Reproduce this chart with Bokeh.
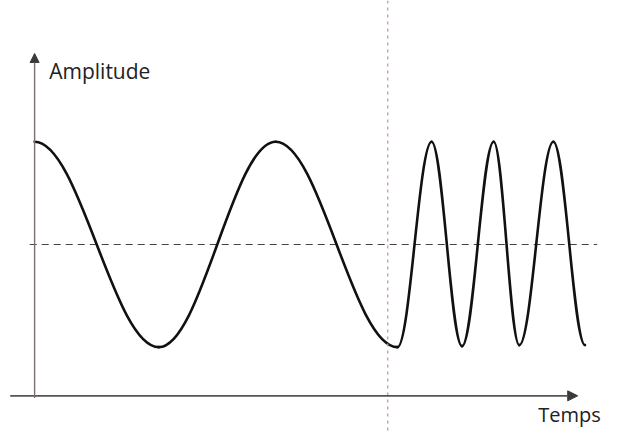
import numpy as np
from bokeh.plotting import figure
from bokeh.models import Range1d, Arrow, NormalHead, Label, Span
from bokeh.embed import file_html
from bokeh.resources import INLINE

# --- data -----------------------------------------------------------------
# time of each successive extremum of the signal (arbitrary time units)
extremum_time = [0.0, 1.02, 1.98, 2.98, 3.26, 3.51, 3.77, 3.98, 4.26, 4.52]
# amplitude at each extremum
extremum_amp = [1.0, -1.0, 1.0, -1.0, 1.0, -0.99, 1.0, -0.98, 1.0, -0.98]
# instant where the frequency changes (red dotted marker)
switch_time = 2.90
# reference level (dashed line)
zero_level = 0.0
# axis labels
y_label = "Amplitude"
x_label = "Temps"

# --- figure ------------------------------------------------------------------
p = figure(width=604, height=432, output_backend="svg", toolbar_location=None,
           x_range=Range1d(-0.28, 4.68), y_range=Range1d(-1.831, 2.376),
           min_border=0)
p.axis.visible = False
p.grid.visible = False
p.outline_line_color = None
p.background_fill_color = "white"
p.border_fill_color = "white"

# vertical red dotted line
p.add_layout(Span(location=switch_time, dimension="height",
                  line_color="#c49a9a", line_width=1.3, line_dash="3 4"))

# horizontal dashed reference line
p.segment(x0=[-0.04], y0=[zero_level], x1=[4.62], y1=[zero_level],
          line_color="#444444", line_width=1.1, line_dash="7 5")

# axes with arrows
axis_y_level = -1.474
p.add_layout(Arrow(end=NormalHead(size=10, fill_color="#3a3a3a", line_color="#3a3a3a"),
                   x_start=-0.2, y_start=axis_y_level, x_end=4.46, y_end=axis_y_level,
                   line_color="#555555", line_width=1.6))
p.add_layout(Arrow(end=NormalHead(size=9, fill_color="#3a3a3a", line_color="#3a3a3a"),
                   x_start=0.0, y_start=axis_y_level - 0.02, x_end=0.0, y_end=1.86,
                   line_color="#7a7070", line_width=1.4))

# signal: each half cycle drawn as a cubic Bezier between successive extrema
t = np.array(extremum_time)
a = np.array(extremum_amp)
k = 0.3642
dt = t[1:] - t[:-1]
p.bezier(x0=t[:-1], y0=a[:-1], x1=t[1:], y1=a[1:],
         cx0=t[:-1] + k * dt, cy0=a[:-1],
         cx1=t[1:] - k * dt, cy1=a[1:],
         line_color="#111111", line_width=2.6, line_cap="round")

# labels
p.add_layout(Label(x=0.12, y=1.69, text=y_label, text_font="Open Sans",
                   text_font_size="21px", text_color="#222222",
                   text_baseline="alphabetic", text_align="left"))
p.add_layout(Label(x=4.65, y=-1.66, text=x_label, text_font="Open Sans",
                   text_font_size="20px", text_color="#222222",
                   text_baseline="alphabetic", text_align="right"))

open("out.html", "w").write(file_html(p, INLINE))
